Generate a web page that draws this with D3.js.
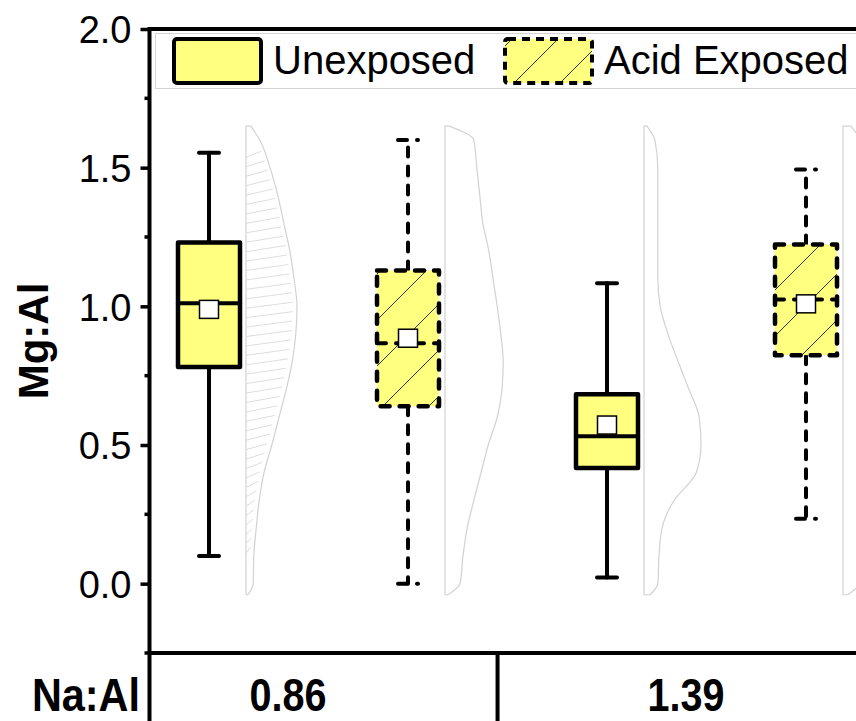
<!DOCTYPE html>
<html>
<head>
<meta charset="utf-8">
<script src="https://cdn.jsdelivr.net/npm/d3@7"></script>
<style>
  body { margin: 0; background: #fff; }
  text { font-family: Arial, 'Liberation Sans', sans-serif; }
</style>
</head>
<body>
<div id="chart"></div>
<script>
// box plot summary, one entry per box (left to right)
const groups = ['0.86', '1.39'];
const conditions = ['Unexposed', 'Acid Exposed'];
const boxPositions = [1, 2, 3, 4];
const boxConditions = ['Unexposed', 'Acid Exposed', 'Unexposed', 'Acid Exposed'];
const whiskerLow = [0.10, 0.0, 0.022, 0.234];
const q1 = [0.781, 0.640, 0.417, 0.824];
const medians = [1.011, 0.867, 0.532, 1.025];
const q3 = [1.230, 1.129, 0.683, 1.223];
const whiskerHigh = [1.554, 1.600, 1.083, 1.493];
const means = [0.989, 0.885, 0.572, 1.009];

// half violins: relative density at each Mg:Al level
const violinLevels = [-0.04, 0, 0.1, 0.2, 0.3, 0.4, 0.5, 0.6, 0.7, 0.8, 0.9, 1.0, 1.1, 1.2, 1.3, 1.4, 1.5, 1.6, 1.65];
const violinUnexp086 = [0.03, 0.12, 0.13, 0.17, 0.22, 0.30, 0.43, 0.55, 0.67, 0.77, 0.83, 0.85, 0.80, 0.73, 0.63, 0.53, 0.40, 0.23, 0.08];
const violinAcid086 = [0.05, 0.25, 0.30, 0.37, 0.48, 0.60, 0.72, 0.87, 0.95, 0.97, 0.93, 0.87, 0.80, 0.73, 0.63, 0.58, 0.53, 0.48, 0.07];
const violinUnexp139 = [0.10, 0.23, 0.25, 0.30, 0.50, 0.87, 0.95, 0.92, 0.75, 0.57, 0.40, 0.27, 0.23, 0.23, 0.23, 0.23, 0.23, 0.18, 0.05];
const violinAcid139 = [0.08, 0.27, 0.30, 0.37, 0.47, 0.57, 0.67, 0.77, 0.87, 0.93, 0.97, 0.97, 0.92, 0.83, 0.73, 0.60, 0.47, 0.30, 0.13];
const violins = [violinUnexp086, violinAcid086, violinUnexp139, violinAcid139];

const yTicks = [0, 0.5, 1.0, 1.5, 2.0];
const yMinorTicks = [-0.25, 0.25, 0.75, 1.25, 1.75];

document.addEventListener('DOMContentLoaded', () => {
  const width = 856;
  const height = 721;
  const yellow = '#ffff80';

  const svg = d3.select('#chart')
                .append('svg')
                .attr('width', width)
                .attr('height', height);

  const defs = svg.append('defs');
  const hatch = defs.append('pattern')
                    .attr('id', 'hatch')
                    .attr('patternUnits', 'userSpaceOnUse')
                    .attr('x', 7)
                    .attr('width', 46)
                    .attr('height', 46);
  hatch.append('rect').attr('width', 46).attr('height', 46).attr('fill', yellow);
  hatch.append('path')
       .attr('d', 'M0,46 L46,0 M-2,2 L2,-2 M44,48 L48,44')
       .attr('stroke', '#000')
       .attr('stroke-width', 0.8);

  const y = d3.scaleLinear().domain([-0.25, 2.0]).range([653, 29]);
  const x = d3.scaleLinear().domain([1, 4]).range([209, 806]);
  const plotLeft = 149.5;
  const boxHalf = 31;
  const capHalf = 10;
  const violinGap = 37;
  const violinW = d3.scaleLinear().domain([0, 1]).range([0, 60]);

  const isAcid = (i) => boxConditions[i] === 'Acid Exposed';
  const dash = '9,10';

  // half violins
  violins.forEach((dens, i) => {
    const left = x(boxPositions[i]) + violinGap;
    const area = d3.area()
                   .y((d) => y(d[0]))
                   .x0(left)
                   .x1((d) => left + violinW(d[1]))
                   .curve(d3.curveMonotoneY);
    svg.append('path')
       .attr('d', area(violinLevels.map((v, k) => [v, dens[k]])))
       .attr('fill', 'none')
       .attr('stroke', '#d2d2d2')
       .attr('stroke-width', 1.2);

    // the first violin is drawn with a ragged hatch in the original
    if (i === 0) {
      const interp = d3.scaleLinear().domain(violinLevels).range(dens);
      const fins = d3.range(0.12, 1.55, 0.034);
      svg.append('g')
         .selectAll('path')
         .data(fins)
         .enter()
         .append('path')
         .attr('d', (v) => {
           const r = left + violinW(interp(v)) - 4;
           return 'M' + left + ',' + (y(v) + 3) + ' L' + r + ',' + (y(v) - 3);
         })
         .attr('fill', 'none')
         .attr('stroke', '#dedede')
         .attr('stroke-width', 1);
    }
  });

  // boxes
  const box = svg.selectAll('g.box')
                 .data(boxPositions)
                 .enter()
                 .append('g')
                 .attr('class', 'box');

  box.each(function (p, i) {
    const g = d3.select(this);
    const cx = x(p);
    const acid = isAcid(i);
    g.append('line')
     .attr('x1', cx).attr('x2', cx)
     .attr('y1', y(q3[i])).attr('y2', y(whiskerHigh[i]))
     .attr('stroke', '#000').attr('stroke-width', 4)
     .attr('stroke-linecap', 'round')
     .attr('stroke-dasharray', acid ? dash : null);
    g.append('line')
     .attr('x1', cx).attr('x2', cx)
     .attr('y1', y(q1[i])).attr('y2', y(whiskerLow[i]))
     .attr('stroke', '#000').attr('stroke-width', 4)
     .attr('stroke-linecap', 'round')
     .attr('stroke-dasharray', acid ? dash : null);
    [whiskerHigh[i], whiskerLow[i]].forEach((v) => {
      g.append('line')
       .attr('x1', cx - capHalf).attr('x2', cx + capHalf)
       .attr('y1', y(v)).attr('y2', y(v))
       .attr('stroke', '#000').attr('stroke-width', 4)
       .attr('stroke-linecap', 'round')
       .attr('stroke-dasharray', acid ? dash : null);
    });
    g.append('rect')
     .attr('x', cx - boxHalf)
     .attr('y', y(q3[i]))
     .attr('width', boxHalf * 2)
     .attr('height', y(q1[i]) - y(q3[i]))
     .attr('fill', acid ? 'url(#hatch)' : yellow)
     .attr('stroke', '#000').attr('stroke-width', 4.5)
     .attr('stroke-linejoin', 'round')
     .attr('stroke-linecap', 'round')
     .attr('stroke-dasharray', acid ? dash : null);
    g.append('line')
     .attr('x1', cx - boxHalf).attr('x2', cx + boxHalf)
     .attr('y1', y(medians[i])).attr('y2', y(medians[i]))
     .attr('stroke', '#000').attr('stroke-width', 4)
     .attr('stroke-linecap', 'round')
     .attr('stroke-dasharray', acid ? dash : null);
    g.append('rect')
     .attr('x', cx - 9.5)
     .attr('y', y(means[i]) - 9)
     .attr('width', 19)
     .attr('height', 18)
     .attr('fill', '#fff')
     .attr('stroke', '#000')
     .attr('stroke-width', 1.5);
  });

  // axes frame
  svg.append('line')
     .attr('x1', plotLeft).attr('x2', width)
     .attr('y1', y(2.0)).attr('y2', y(2.0))
     .attr('stroke', '#000').attr('stroke-width', 4);
  svg.append('line')
     .attr('x1', plotLeft).attr('x2', width)
     .attr('y1', y(-0.25)).attr('y2', y(-0.25))
     .attr('stroke', '#000').attr('stroke-width', 4);
  svg.append('line')
     .attr('x1', plotLeft).attr('x2', plotLeft)
     .attr('y1', y(2.0) - 2).attr('y2', height)
     .attr('stroke', '#000').attr('stroke-width', 4);

  const yAxis = d3.axisLeft(y)
                  .tickValues(yTicks)
                  .tickFormat(d3.format('.1f'))
                  .tickSize(9)
                  .tickPadding(9);
  const yAxisG = svg.append('g')
                    .attr('transform', 'translate(' + plotLeft + ',0)')
                    .call(yAxis);
  yAxisG.select('.domain').remove();
  yAxisG.selectAll('line').attr('stroke', '#000').attr('stroke-width', 3.5);
  yAxisG.selectAll('text')
        .style('font-size', '38px')
        .attr('fill', '#000')
        .attr('dy', '0.36em');

  svg.append('g')
     .selectAll('line')
     .data(yMinorTicks)
     .enter()
     .append('line')
     .attr('x1', plotLeft - 5).attr('x2', plotLeft)
     .attr('y1', (d) => y(d)).attr('y2', (d) => y(d))
     .attr('stroke', '#000').attr('stroke-width', 3.5);

  svg.append('text')
     .attr('transform', 'translate(48,' + y(0.875) + ') rotate(-90)')
     .attr('text-anchor', 'middle')
     .style('font-size', '42px')
     .style('font-weight', 'bold')
     .text('Mg:Al');

  // group band under the plot
  svg.append('line')
     .attr('x1', x(2.45)).attr('x2', x(2.45))
     .attr('y1', y(-0.25)).attr('y2', height)
     .attr('stroke', '#000').attr('stroke-width', 4);

  svg.append('text')
     .attr('transform', 'translate(140,711) scale(0.9,1)')
     .attr('text-anchor', 'end')
     .style('font-size', '46px')
     .style('font-weight', 'bold')
     .text('Na:Al');

  svg.selectAll('text.group')
     .data(groups)
     .enter()
     .append('text')
     .attr('class', 'group')
     .attr('transform', (d, i) => 'translate(' + (x(i * 2 + 1) + 79) + ',711) scale(0.86,1)')
     .attr('text-anchor', 'middle')
     .style('font-size', '46px')
     .style('font-weight', 'bold')
     .text((d) => d);

  // legend
  const legend = svg.append('g');
  legend.append('rect')
        .attr('x', 155.5).attr('y', 33.5)
        .attr('width', 720).attr('height', 55)
        .attr('fill', '#fff')
        .attr('stroke', '#d4d4d4')
        .attr('stroke-width', 1);

  const legendX = [174, 505];
  const legendItem = legend.selectAll('g')
                           .data(conditions)
                           .enter()
                           .append('g')
                           .attr('transform', (d, i) => 'translate(' + legendX[i] + ',39)');
  legendItem.append('rect')
            .attr('width', 87)
            .attr('height', 44)
            .attr('rx', 3)
            .attr('fill', (d) => d === 'Acid Exposed' ? 'url(#hatch)' : yellow)
            .attr('stroke', '#000')
            .attr('stroke-width', 4)
            .attr('stroke-linejoin', 'round')
            .attr('stroke-dasharray', (d) => d === 'Acid Exposed' ? '8,6' : null);
  legendItem.append('text')
            .attr('x', 99)
            .attr('y', 35)
            .style('font-size', '40px')
            .text((d) => d);
});
</script>
</body>
</html>
